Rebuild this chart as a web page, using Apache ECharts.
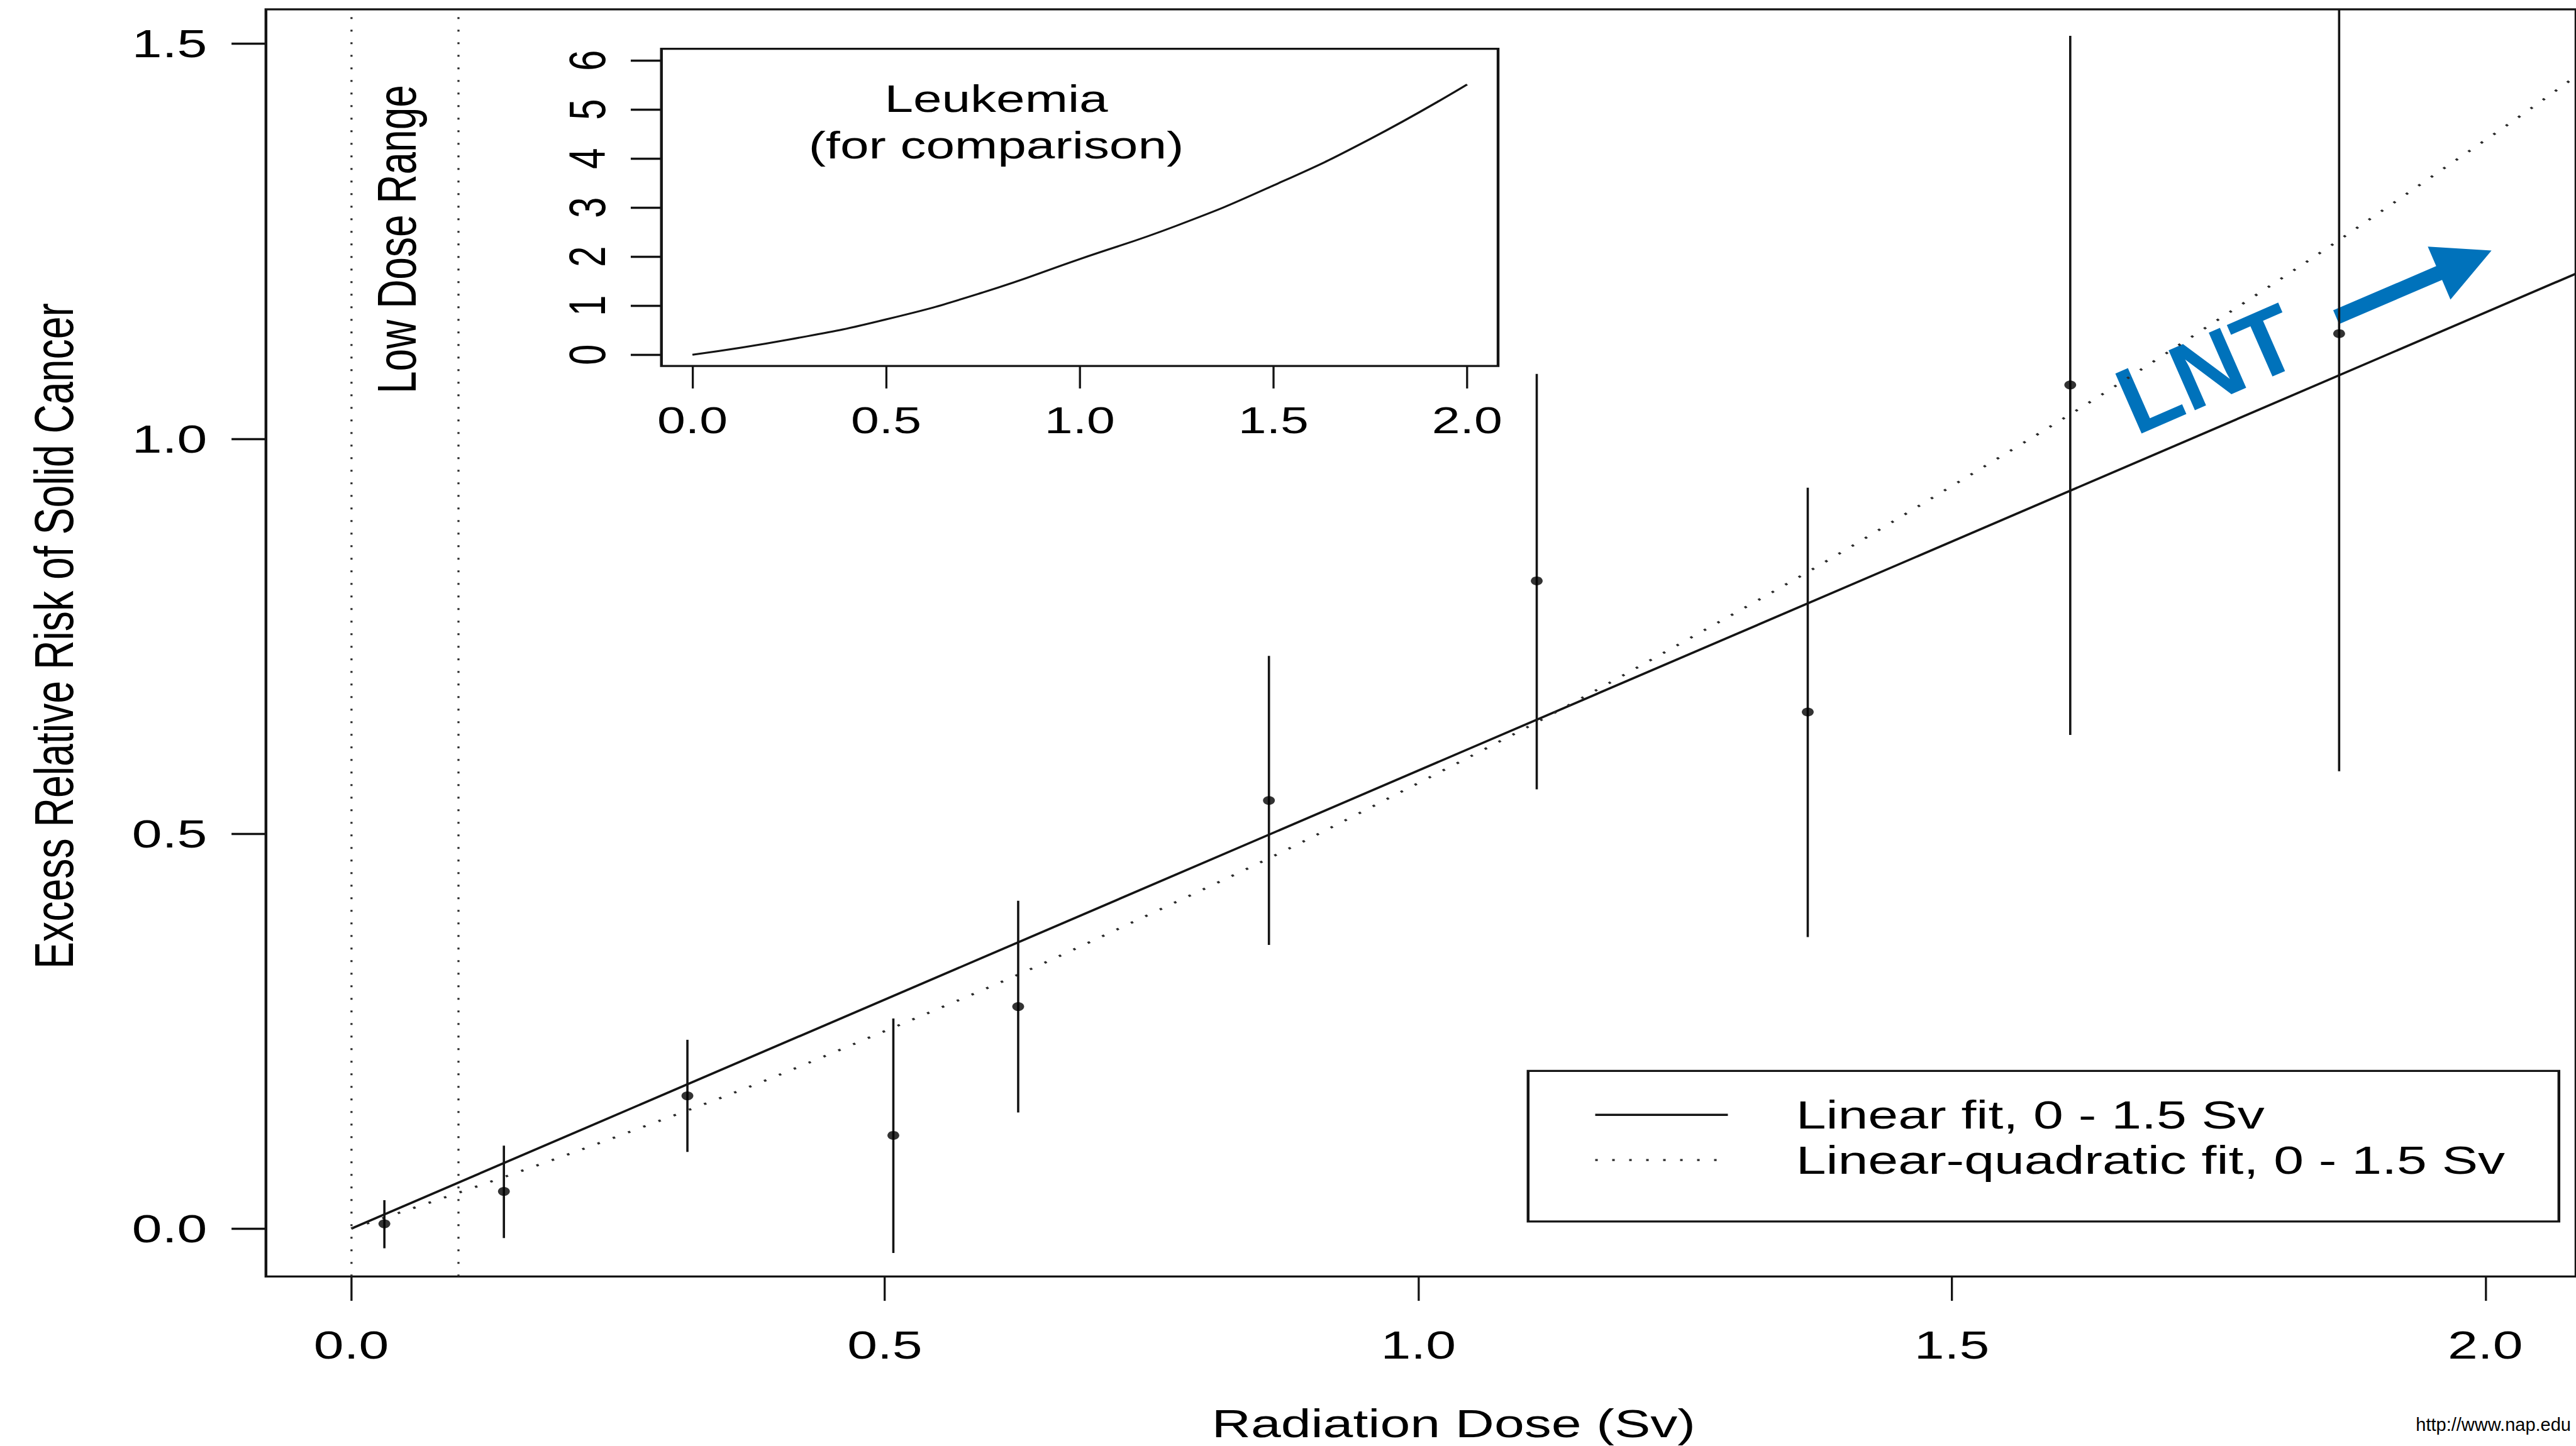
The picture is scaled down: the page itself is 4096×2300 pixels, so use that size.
<!DOCTYPE html>
<html>
<head>
<meta charset="utf-8">
<title>Excess Relative Risk of Solid Cancer vs Radiation Dose</title>
<script src="https://cdn.jsdelivr.net/npm/echarts@6/dist/echarts.min.js"></script>
<style>
  html, body { margin: 0; padding: 0; background: #fff; overflow: hidden; width: 4096px; height: 2300px; }
  /* The reference figure is an R plot that was stretched horizontally (~1.35x).
     The chart is laid out in unstretched units and the whole drawing is stretched with CSS. */
  #chart { width: 3034.07px; height: 2300px; transform: scaleX(1.35); transform-origin: 0 0; }
</style>
</head>
<body>
<div id="chart"></div>
<script>
// ---------------- data ----------------
const doses       = [0.031, 0.143, 0.315, 0.508, 0.625, 0.860, 1.111, 1.365, 1.611, 1.863];
const errEstimate = [0.006, 0.047, 0.168, 0.118, 0.281, 0.542, 0.820, 0.654, 1.068, 1.133];
const errLower    = [-0.025, -0.012, 0.097, -0.031, 0.147, 0.359, 0.556, 0.369, 0.625, 0.579];
const errUpper    = [0.036, 0.105, 0.239, 0.266, 0.415, 0.725, 1.082, 0.938, 1.510, 1.600];

const linearDose  = [0, 2.085];
const linearFit   = [0, 1.209];

const lqDose      = [0, 0.25, 0.5, 0.75, 1.0, 1.25, 1.5, 1.75, 2.0, 2.085];
const lqFit       = [0, 0.117, 0.250, 0.399, 0.564, 0.744, 0.940, 1.151, 1.378, 1.459];

const leukDose    = [0, 0.25, 0.5, 0.75, 1.0, 1.25, 1.5, 1.75, 2.0];
const leukRisk    = [0, 0.31, 0.72, 1.27, 1.95, 2.63, 3.45, 4.40, 5.51];

const lowDoseBounds = [0, 0.1];

const mainXTicks  = [0, 0.5, 1.0, 1.5, 2.0];
const mainYTicks  = [0, 0.5, 1.0, 1.5];
const insetXTicks = [0, 0.5, 1.0, 1.5, 2.0];
const insetYTicks = [0, 1, 2, 3, 4, 5, 6];

const LIN_NAME = 'Linear fit, 0 - 1.5 Sv';
const LQ_NAME  = 'Linear-quadratic fit, 0 - 1.5 Sv';

// ---------------- layout helpers ----------------
const S = 1.35;            // horizontal stretch of the figure
const K = 0.995;           // reference -> window scale
const W = 4096 / S;
const fx = v => v * K / S; // horizontal reference px -> layout px
const fy = v => v * K;     // vertical reference px -> layout px
const FONT = "'Liberation Sans', Arial, Helvetica, sans-serif";
const INK = '#141414';
const BLUE = '#0072BB';

const pairs = (xs, ys) => xs.map((x, i) => [x, ys[i]]);

// LNT arrow outline (reference px, visual space)
const arrowRef = [[3727.3, 496.0], [3891.8, 425.5], [3878.4, 394.2], [3980.2, 400.6],
                  [3914.6, 478.8], [3901.2, 447.5], [3736.7, 518.0]];

const chart = echarts.init(document.getElementById('chart'), null,
  { renderer: 'svg', width: W, height: 2300 });

const tickLabel = { fontFamily: FONT, color: '#000' };
const hiddenLine = { show: false, onZero: false };

const option = {
  animation: false,
  backgroundColor: '#fff',
  grid: [
    { // main plot
      left: fx(425), top: fy(15),
      width: fx(4124.3 - 425), height: fy(2040.5 - 15),
      show: true, borderColor: INK, borderWidth: 3.3, backgroundColor: 'transparent'
    },
    { // inset
      left: fx(1057), top: fy(78),
      width: fx(2394 - 1057), height: fy(585 - 78),
      show: true, borderColor: INK, borderWidth: 3.3, backgroundColor: '#fff'
    }
  ],
  xAxis: [
    {
      type: 'value', gridIndex: 0, min: -0.08, max: 2.085, position: 'bottom',
      splitLine: { show: false }, axisLine: hiddenLine,
      axisTick: { show: true, inside: false, customValues: mainXTicks, length: fy(39),
                  lineStyle: { color: INK, width: 3.3 / S } },
      axisLabel: Object.assign({ customValues: mainXTicks, fontSize: fy(64), lineHeight: fy(64),
                  margin: fy(109.5), verticalAlign: 'middle',
                  formatter: v => v.toFixed(1) }, tickLabel)
    },
    {
      type: 'value', gridIndex: 1, min: -0.08, max: 2.08, position: 'bottom',
      splitLine: { show: false }, axisLine: hiddenLine,
      axisTick: { show: true, inside: false, customValues: insetXTicks, length: fy(36),
                  lineStyle: { color: INK, width: 3.3 / S } },
      axisLabel: Object.assign({ customValues: insetXTicks, fontSize: fy(60), lineHeight: fy(60),
                  margin: fy(87), verticalAlign: 'middle',
                  formatter: v => v.toFixed(1) }, tickLabel)
    }
  ],
  yAxis: [
    {
      type: 'value', gridIndex: 0, min: -0.0606, max: 1.5435, position: 'left',
      splitLine: { show: false }, axisLine: hiddenLine,
      axisTick: { show: true, inside: false, customValues: mainYTicks, length: fx(55),
                  lineStyle: { color: INK, width: 3.3 } },
      axisLabel: Object.assign({ customValues: mainYTicks, fontSize: fy(64), lineHeight: fy(64),
                  margin: fx(94), align: 'right', verticalAlign: 'middle',
                  formatter: v => v.toFixed(1) }, tickLabel)
    },
    {
      type: 'value', gridIndex: 1, min: -0.2296, max: 6.237, position: 'left',
      splitLine: { show: false }, axisLine: hiddenLine,
      axisTick: { show: true, inside: false, customValues: insetYTicks, length: fx(49),
                  lineStyle: { color: INK, width: 3.3 } },
      axisLabel: Object.assign({ customValues: insetYTicks, fontSize: fy(60), lineHeight: fy(60),
                  rotate: 90, margin: fx(118.5), align: 'center', verticalAlign: 'middle',
                  formatter: v => String(v) }, tickLabel)
    }
  ],
  legend: {
    data: [LIN_NAME, LQ_NAME],
    orient: 'vertical',
    left: fx(2442), top: fy(1712),
    padding: [fy(38), fx(86), fy(66), fx(105)],
    itemWidth: fx(212), itemHeight: 20, itemGap: fy(8),
    borderColor: INK, borderWidth: 3.3, backgroundColor: '#fff',
    selectedMode: false,
    itemStyle: { opacity: 0 },
    lineStyle: { width: 3.3 },
    textStyle: { fontSize: fy(64), lineHeight: fy(64), fontFamily: FONT, color: '#000',
                 padding: [0, 0, 0, fx(102)] }
  },
  series: [
    {
      name: 'Low dose range bounds', type: 'line', xAxisIndex: 0, yAxisIndex: 0,
      data: [], silent: true,
      markLine: {
        silent: true, symbol: 'none', label: { show: false },
        lineStyle: { color: '#2a2a2a', width: 3.3 / S, type: [3, 17] },
        emphasis: { disabled: true },
        data: lowDoseBounds.map(v => ({ xAxis: v }))
      }
    },
    {
      name: '90% CI', type: 'custom', xAxisIndex: 0, yAxisIndex: 0, clip: true, silent: true,
      data: doses.map((d, i) => [d, errLower[i], errUpper[i]]),
      encode: { x: 0, y: [1, 2] },
      renderItem: (params, api) => {
        const lo = api.coord([api.value(0), api.value(1)]);
        const hi = api.coord([api.value(0), api.value(2)]);
        return { type: 'line', shape: { x1: lo[0], y1: lo[1], x2: hi[0], y2: hi[1] },
                 style: { stroke: INK, lineWidth: 3.6 / S } };
      },
      z: 3
    },
    {
      name: 'ERR estimate', type: 'scatter', xAxisIndex: 0, yAxisIndex: 0,
      data: pairs(doses, errEstimate), symbol: 'circle', symbolSize: 14,
      itemStyle: { color: '#000' }, silent: true, z: 4
    },
    {
      name: LIN_NAME, type: 'line', xAxisIndex: 0, yAxisIndex: 0,
      data: pairs(linearDose, linearFit), symbol: 'none', showSymbol: false,
      lineStyle: { color: INK, width: 3.4 }, silent: true, z: 2
    },
    {
      name: LQ_NAME, type: 'line', xAxisIndex: 0, yAxisIndex: 0,
      data: pairs(lqDose, lqFit), symbol: 'none', showSymbol: false, smooth: true,
      lineStyle: { color: '#2a2a2a', width: 3.4, type: [3, 17] }, silent: true, z: 2
    },
    {
      name: 'Leukemia', type: 'line', xAxisIndex: 1, yAxisIndex: 1,
      data: pairs(leukDose, leukRisk), symbol: 'none', showSymbol: false, smooth: true,
      lineStyle: { color: INK, width: 3 }, silent: true, z: 2
    }
  ],
  graphic: [
    { type: 'text', x: fx(86), y: fy(1016.5), rotation: Math.PI / 2, z: 10,
      style: { text: 'Excess Relative Risk of Solid Cancer', fontSize: fy(64.7), fontFamily: FONT,
               fill: '#000', align: 'center', verticalAlign: 'middle' } },
    { type: 'text', x: fx(2323), y: fy(2275), z: 10,
      style: { text: 'Radiation Dose (Sv)', fontSize: fy(64), fontFamily: FONT,
               fill: '#000', align: 'center', verticalAlign: 'middle' } },
    { type: 'text', x: fx(634), y: fy(382.5), rotation: Math.PI / 2, z: 10,
      style: { text: 'Low Dose Range', fontSize: fy(64.3), fontFamily: FONT,
               fill: '#000', align: 'center', verticalAlign: 'middle' } },
    { type: 'text', x: fx(1592), y: fy(195), z: 10,
      style: { text: 'Leukemia\n(for comparison)', fontSize: fy(61), lineHeight: fy(74.5),
               fontFamily: FONT, fill: '#000', align: 'center', verticalAlign: 'middle' } },
    { // annotations added on top of the stretched figure: drawn unstretched
      type: 'group', x: 0, y: 0, scaleX: 1 / S, scaleY: 1, z: 20,
      children: [
        { type: 'text', x: 3392 * K, y: 648.7 * K, rotation: 23.6 * Math.PI / 180,
          style: { text: 'LNT', fontSize: 152 * K, fontWeight: 'bold', fontFamily: FONT,
                   fill: BLUE, align: 'left', verticalAlign: 'middle' } },
        { type: 'polygon', shape: { points: arrowRef.map(p => [p[0] * K, p[1] * K]) },
          style: { fill: BLUE } },
        { type: 'text', x: 4088, y: 2277.6 * K,
          style: { text: 'http://www.nap.edu', fontSize: 29, fontFamily: FONT,
                   fill: '#000', align: 'right', verticalAlign: 'middle' } }
      ]
    }
  ]
};

chart.setOption(option);
</script>
</body>
</html>
